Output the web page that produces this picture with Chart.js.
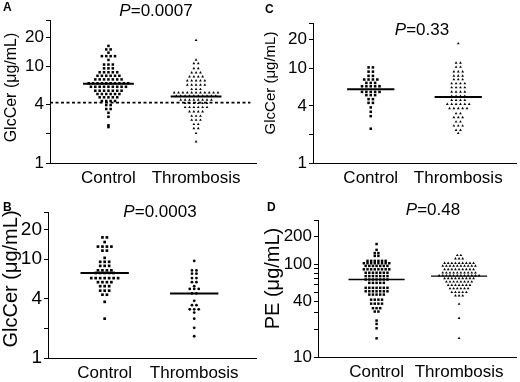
<!DOCTYPE html>
<html>
<head>
<meta charset="utf-8">
<script src="https://cdn.jsdelivr.net/npm/chart.js@4.4.1/dist/chart.umd.min.js"></script>
<style>
    body { margin: 0; background: #fff; width: 520px; height: 382px; position: relative; overflow: hidden;
           font-family: "Liberation Sans", Arial, sans-serif; color: #000; }
    canvas { position: absolute; }
    .letter { position: absolute; font-weight: bold; font-size: 12px; line-height: 12px; }
    .pval { position: absolute; width: 110px; text-align: center; font-size: 17px; line-height: 17px; }
</style>
</head>
<body>
<canvas id="panelA" width="260" height="190" style="left:0;top:0"></canvas>
<canvas id="panelC" width="260" height="190" style="left:260px;top:0"></canvas>
<canvas id="panelB" width="260" height="192" style="left:0;top:190px"></canvas>
<canvas id="panelD" width="260" height="192" style="left:260px;top:190px"></canvas>

<div class="letter" style="left:3px;top:1px">A</div>
<div class="letter" style="left:265px;top:3px">C</div>
<div class="letter" style="left:3px;top:201px">B</div>
<div class="letter" style="left:267px;top:201px">D</div>
<div class="pval" style="left:101px;top:2px"><i>P</i>=0.0007</div>
<div class="pval" style="left:367px;top:21px"><i>P</i>=0.33</div>
<div class="pval" style="left:105px;top:203px"><i>P</i>=0.0003</div>
<div class="pval" style="left:378px;top:201px"><i>P</i>=0.48</div>

<script>
const categories = ["Control", "Thrombosis"];

// A: GlcCer, all patients (μg/mL)
const aControl = [16.2, 14.9, 14.9, 13.8, 12.7, 12.7, 12.7, 12.7, 11.6, 10.4, 10.4, 10.4,
    9.5, 9.5, 9.5, 8.65, 8.65, 8.65, 8.65, 8.65, 7.96, 7.96, 7.96, 7.96, 7.96, 7.96,
    7.3, 7.3, 7.3, 7.3, 7.3, 7.3, 7.3, 6.66, 6.66, 6.66, 6.66, 6.66, 6.66, 6.66, 6.66, 6.66, 6.66,
    6.13, 6.13, 6.13, 6.13, 6.13, 6.13, 6.13, 6.13, 6.13, 5.58, 5.58, 5.58, 5.58, 5.58, 5.58, 5.58,
    5.16, 5.16, 5.16, 5.16, 5.16, 5.16, 4.77, 4.77, 4.77, 4.77, 4.77, 4.37, 4.37, 4.37, 4.37,
    3.97, 3.97, 3.61, 3.61, 3.3, 3.0, 2.45, 2.35];
const aThrombosis = [18.6, 11.6, 10.7, 10.7, 9.5, 9.5, 8.57, 8.57, 8.57, 7.8, 7.8, 7.8, 7.8,
    7.1, 7.1, 7.1, 7.1, 7.1, 6.4, 6.4, 6.4, 6.4, 6.4, 5.78, 5.78, 5.78,
    5.33, 5.33, 5.33, 5.33, 5.33, 5.33, 5.33, 5.33, 5.33, 5.33, 5.33,
    4.93, 4.93, 4.93, 4.93, 4.93, 4.93, 4.93, 4.93, 4.93, 4.93,
    4.48, 4.48, 4.48, 4.48, 4.48, 4.48, 4.48, 4.48, 4.14, 4.14, 4.14, 4.14, 4.14, 4.14,
    3.76, 3.76, 3.76, 3.76, 3.76, 3.76, 3.39, 3.39, 3.39, 3.39, 3.06, 3.06, 3.06,
    2.78, 2.78, 2.78, 2.51, 2.51, 2.28, 2.28, 2.03, 1.66];
const aMedians = [6.6, 4.85];
const aCutoff = 4.2;

// B: GlcCer, second cohort
const bControl = [16.6, 16.6, 14.9, 13.4, 13.4, 13.4, 13.4, 12.2, 12.2, 10.3, 9.4, 9.4, 9.4,
    8.55, 8.55, 8.55, 7.7, 7.7, 7.7, 7.7, 7.25, 7.25, 7.25, 7.25, 7.25,
    6.43, 6.43, 6.43, 6.43, 6.43, 6.43, 6.43, 5.85, 5.85, 5.85, 5.85, 5.33, 5.33, 5.33,
    4.8, 4.8, 4.8, 4.37, 4.37, 3.7, 2.5];
const bThrombosis = [9.6, 7.7, 7.7, 7.13, 7.13, 6.43, 6.43, 5.85, 5.85, 5.33, 5.0, 5.0, 5.0,
    4.5, 4.5, 3.79, 3.42, 3.42, 3.11, 3.11, 3.11, 2.88, 2.5, 2.02, 1.66];
const bMedians = [7.25, 4.5];

// C: GlcCer, third cohort
const cControl = [10.2, 10.2, 9.2, 9.2, 8.3, 8.3, 7.6, 7.6, 7.6, 7.6, 7.0, 7.0, 7.0,
    6.45, 6.45, 6.45, 6.45, 6.45, 5.63, 5.63, 5.63, 5.63, 5.63, 5.2, 5.2, 5.2,
    4.72, 4.72, 4.31, 4.31, 3.86, 3.47, 3.12, 2.3];
const cThrombosis = [18.2, 11.4, 11.4, 10.3, 10.3, 9.2, 9.2, 9.2, 8.3, 8.3, 8.3, 7.6, 7.6, 7.6,
    6.9, 6.9, 6.9, 6.9, 6.25, 6.25, 6.25, 6.25, 5.63, 5.63, 5.63, 5.63, 5.07, 5.07, 5.07, 5.07,
    4.6, 4.6, 4.6, 4.6, 4.17, 4.17, 4.17, 4.17, 4.17, 4.17, 3.77, 3.77, 3.77, 3.77, 3.77,
    3.33, 3.33, 3.03, 3.03, 3.03, 2.72, 2.72, 2.47, 2.47, 2.47, 2.22, 2.22, 2.06];
const cMedians = [6.0, 4.98];

// D: PE (μg/mL)
const dControl = [165, 143, 132, 132, 123, 123, 108.8, 108.8, 108.8, 108.8, 108.8, 108.8,
    102.6, 102.6, 102.6, 102.6, 102.6, 102.6, 102.6, 102.6, 96, 96, 96, 96, 96, 96, 96,
    88.2, 88.2, 88.2, 88.2, 88.2, 88.2, 88.2, 88.2, 81, 81, 81, 81, 81, 81, 81,
    74.5, 74.5, 74.5, 74.5, 74.5, 74.5, 74.5, 68.5, 68.5, 68.5, 68.5, 68.5, 68.5, 68.5,
    63, 63, 63, 63, 63, 55.7, 55.7, 55.7, 55.7, 55.7, 55.7, 55.7, 51.1, 51.1, 51.1, 51.1, 51.1, 51.1, 51.1,
    47.1, 47.1, 47.1, 47.1, 47.1, 41.5, 41.5, 41.5, 41.5, 37.6, 37.6, 37.6, 37.6,
    33.6, 33.6, 33.6, 30.9, 30.9, 24.7, 22.7, 20.4, 15.9];
const dThrombosis = [125, 125, 115, 115, 115,
    102.6, 102.6, 102.6, 102.6, 102.6, 102.6, 102.6, 102.6, 102.6,
    96, 96, 96, 96, 96, 96, 96, 96, 96, 96, 88, 88, 88, 88, 88, 88, 88, 88, 88,
    81, 81, 81, 81, 81, 81, 81, 81, 81, 81,
    75.6, 75.6, 75.6, 75.6, 75.6, 75.6, 75.6, 75.6, 75.6, 75.6, 75.6, 75.6,
    70.3, 70.3, 70.3, 70.3, 70.3, 70.3, 70.3, 70.3, 70.3,
    64.8, 64.8, 64.8, 64.8, 64.8, 64.8, 64.8, 64.8, 59.5, 59.5, 59.5, 59.5, 59.5, 59.5, 59.5,
    54.8, 54.8, 54.8, 54.8, 54.8, 54.8, 49.9, 49.9, 49.9, 49.9, 49.9, 45.9, 45.9, 45.9,
    37.3, 26.2, 15.9];
const dMedians = [68.5, 74.5];

const glcTicks = [1, 2, 4, 10, 20, 30];
const glcTickLabels = ["1", "", "4", "10", "20", ""];
const peTicks = [10, 20, 30, 40, 50, 60, 70, 80, 90, 100, 200, 300];
const peTickLabels = ["10", "", "", "40", "", "", "", "", "", "100", "200", ""];

const FONT = "'Liberation Sans', Arial, sans-serif";

// points sharing a value sit side by side in one row, centred on the category
function swarm(values, center, step) {
    const rows = new Map();
    values.forEach(v => rows.set(v, (rows.get(v) || 0) + 1));
    const pts = [];
    rows.forEach((n, v) => {
        for (let i = 0; i < n; i++) {
            pts.push({ x: center + (i - (n - 1) / 2) * step, y: v });
        }
    });
    return pts;
}

// rotated y title, placed by hand since the figure does not centre it on the axis
const yTitlePlugin = {
    id: "yTitle",
    afterDraw(chart, args, opts) {
        const ctx = chart.ctx;
        ctx.save();
        ctx.translate(opts.x, opts.y);
        ctx.rotate(-Math.PI / 2);
        ctx.font = opts.size + "px " + FONT;
        ctx.fillStyle = "#000";
        ctx.textAlign = "center";
        ctx.textBaseline = "middle";
        ctx.fillText(opts.text, 0, 0);
        ctx.restore();
    }
};

function drawPanel(p) {
    const canvas = document.getElementById(p.id);
    const datasets = [];

    p.medians.forEach((m, i) => {
        datasets.push({
            data: [{ x: i + 1 - p.halfWidth, y: m }, { x: i + 1 + p.halfWidth, y: m }],
            showLine: true, borderColor: "#000", borderWidth: p.medianWidth, pointRadius: 0
        });
    });
    if (p.cutoff) {
        datasets.push({
            data: [{ x: p.xMin, y: p.cutoff }, { x: 2.62, y: p.cutoff }],
            showLine: true, borderColor: "#000", borderWidth: 1.8, borderDash: [3, 2.5], pointRadius: 0
        });
    }
    p.groups.forEach((vals, i) => {
        datasets.push({
            data: swarm(vals, i + 1, p.step),
            pointStyle: p.markers[i],
            pointRadius: p.sizes[i],
            backgroundColor: "#000",
            pointBackgroundColor: "#000",
            borderWidth: 0,
            pointBorderWidth: 0
        });
    });

    new Chart(canvas, {
        type: "scatter",
        data: { datasets },
        plugins: [yTitlePlugin],
        options: {
            responsive: false,
            animation: false,
            devicePixelRatio: 1,
            events: [],
            layout: {
                padding: { left: 0, top: p.area.top, right: canvas.width - p.area.right, bottom: 0 }
            },
            plugins: {
                legend: { display: false },
                tooltip: { enabled: false },
                yTitle: { text: p.yTitle, size: p.titleSize, x: p.titlePos[0], y: p.titlePos[1] }
            },
            scales: {
                x: {
                    type: "linear",
                    min: p.xMin,
                    max: p.xMax,
                    afterBuildTicks: s => { s.ticks = [{ value: 1 }, { value: 2 }]; },
                    afterFit: s => { s.height = canvas.height - p.area.bottom; },
                    grid: { display: false, drawTicks: false },
                    border: { display: true, color: "#000", width: 1 },
                    ticks: {
                        autoSkip: false, maxRotation: 0, padding: 5, color: "#000",
                        font: { family: FONT, size: 17 },
                        callback: v => categories[v - 1]
                    }
                },
                y: {
                    type: "logarithmic",
                    min: p.yMin,
                    max: p.yMax,
                    afterBuildTicks: s => { s.ticks = p.ticks.map(v => ({ value: v })); },
                    afterFit: s => { s.width = p.area.left; },
                    grid: { drawOnChartArea: false, drawTicks: true, tickLength: 4, color: "#000" },
                    border: { display: true, color: "#000", width: 1 },
                    ticks: {
                        autoSkip: false, padding: 2, color: "#000",
                        font: { family: FONT, size: p.tickSize },
                        callback: (v) => p.tickLabels[p.ticks.indexOf(v)] ?? ""
                    }
                }
            }
        }
    });
}

drawPanel({
    id: "panelA", groups: [aControl, aThrombosis], medians: aMedians, cutoff: aCutoff,
    markers: ["rect", "triangle"], sizes: [1.8, 1.6], step: 0.05, halfWidth: 0.29, medianWidth: 2,
    area: { left: 50, top: 20, right: 258, bottom: 163 }, xMin: 0.333, xMax: 2.684,
    yMin: 1, yMax: 30, ticks: glcTicks, tickLabels: glcTickLabels, tickSize: 17,
    yTitle: "GlcCer (μg/mL)", titleSize: 16, titlePos: [12, 87.5]
});
drawPanel({
    id: "panelB", groups: [bControl, bThrombosis], medians: bMedians,
    markers: ["rect", "circle"], sizes: [1.9, 1.4], step: 0.05, halfWidth: 0.27, medianWidth: 2,
    area: { left: 48, top: 22, right: 257, bottom: 168 }, xMin: 0.367, xMax: 2.69,
    yMin: 1, yMax: 30, ticks: glcTicks, tickLabels: glcTickLabels, tickSize: 19,
    yTitle: "GlcCer (μg/mL)", titleSize: 20, titlePos: [11, 89]
});
drawPanel({
    id: "panelC", groups: [cControl, cThrombosis], medians: cMedians,
    markers: ["rect", "triangle"], sizes: [1.8, 1.6], step: 0.05, halfWidth: 0.27, medianWidth: 2,
    area: { left: 53, top: 23, right: 257, bottom: 163 }, xMin: 0.34, xMax: 2.66,
    yMin: 1, yMax: 30, ticks: glcTicks, tickLabels: glcTickLabels, tickSize: 17,
    yTitle: "GlcCer (μg/mL)", titleSize: 15, titlePos: [11, 83]
});
drawPanel({
    id: "panelD", groups: [dControl, dThrombosis], medians: dMedians,
    markers: ["rect", "triangle"], sizes: [1.75, 1.6], step: 0.044, halfWidth: 0.34, medianWidth: 1.4,
    area: { left: 58, top: 30, right: 257, bottom: 167 }, xMin: 0.29, xMax: 2.69,
    yMin: 10, yMax: 300, ticks: peTicks, tickLabels: peTickLabels, tickSize: 17,
    yTitle: "PE (μg/mL)", titleSize: 20, titlePos: [13, 88.5]
});
</script>
</body>
</html>
